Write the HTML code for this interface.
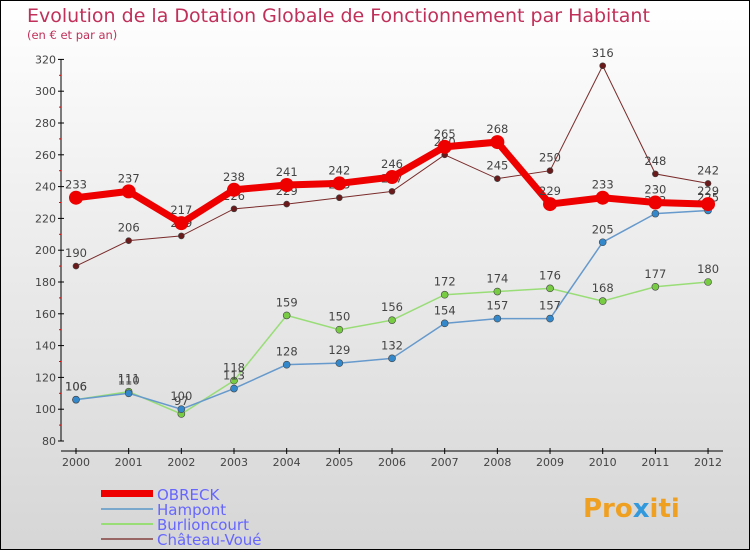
<!DOCTYPE html>
<html><head><meta charset="utf-8"><style>
body{margin:0}
#c{width:750px;height:550px;position:relative;box-sizing:border-box;border:1px solid #000;background:linear-gradient(#ffffff,#f2f2f2 30%,#d6d6d6);font-family:"DejaVu Sans","Liberation Sans",sans-serif;overflow:hidden}
svg{position:absolute;left:0;top:0}
</style></head><body>
<div id="c">
<svg width="750" height="550" id="s">
<text x="26" y="21" font-size="19" fill="#c0305a">Evolution de la Dotation Globale de Fonctionnement par Habitant</text>
<text x="26" y="38" font-size="11.5" fill="#c0305a">(en € et par an)</text>
<g id="axes"></g><g id="series"></g>
<g>
<rect x="100" y="489" width="52" height="7" fill="#e00"/>
<text x="156" y="499" font-size="15" fill="#6666ff">OBRECK</text>
<rect x="100" y="507" width="52" height="2" fill="#7aa7cc"/>
<text x="156" y="514" font-size="15" fill="#6666ff">Hampont</text>
<rect x="100" y="522" width="52" height="2" fill="#99dd77"/>
<text x="156" y="529" font-size="15" fill="#6666ff">Burlioncourt</text>
<rect x="100" y="537" width="52" height="2" fill="#996666"/>
<text x="156" y="544" font-size="15" fill="#6666ff">Château-Voué</text>
</g>
<g><text x="582" y="516" font-size="26" font-weight="bold" fill="#f0a020">Pro<tspan fill="#3399dd">x</tspan>iti</text></g>
</svg></div>
<script>
const years=[2000,2001,2002,2003,2004,2005,2006,2007,2008,2009,2010,2011,2012];
const obreck=[233,237,217,238,241,242,246,265,268,229,233,230,229];
const hampont=[106,110,100,113,128,129,132,154,157,157,205,223,225];
const burlioncourt=[106,111,97,118,159,150,156,172,174,176,168,177,180];
const chateauVoue=[190,206,209,226,229,233,237,260,245,250,316,248,242];
const yTicks=[80,100,120,140,160,180,200,220,240,260,280,300,320];
const NS="http://www.w3.org/2000/svg";
function X(i){return 75+i*52.67;}
function Y(v){return 440-(v-80)*1.59;}
function mk(t,a,p){const e=document.createElementNS(NS,t);for(const k in a)e.setAttribute(k,a[k]);p.appendChild(e);return e;}
const ax=document.getElementById('axes');
let l=mk('line',{x1:60,y1:Y(320),x2:60,y2:Y(80),stroke:'#000'},ax);


yTicks.forEach(v=>{const t=mk('text',{x:55,y:Y(v)+4,'font-size':11,fill:'#444','text-anchor':'end'},ax);t.textContent=v;


mk('line',{x1:57,y1:Y(v),x2:63,y2:Y(v),stroke:'#000'},ax);
if(v<320)mk('line',{x1:58,y1:Y(v+10),x2:60,y2:Y(v+10),stroke:'#e00'},ax);});
l=mk('line',{x1:60,y1:450,x2:722,y2:450,stroke:'#000'},ax);


years.forEach((y,i)=>{mk('line',{x1:X(i),y1:447,x2:X(i),y2:453,stroke:'#000'},ax);
const t=mk('text',{x:X(i),y:465,'font-size':11,fill:'#444','text-anchor':'middle'},ax);t.textContent=y;

});
const sg=document.getElementById('series');
function draw(vals,color,dot,w,r,name){
const g=mk('g',{},sg);


const p=mk('polyline',{points:vals.map((v,i)=>X(i)+','+Y(v)).join(' '),fill:'none',stroke:color,'stroke-width':w},g);


vals.forEach((v,i)=>{const c=mk('circle',{cx:X(i),cy:Y(v),r:r,fill:dot,stroke:'#444','stroke-width':r>4?0:0.6},g);


const t=mk('text',{x:X(i),y:Y(v)-9,'font-size':11.5,fill:'#444','text-anchor':'middle'},g);t.textContent=v;

});}
draw(chateauVoue,'#7a2a2a','#6a1a1a',1,3,'chateau-voue');
draw(burlioncourt,'#99dd77','#77cc44',1.5,3.5,'burlioncourt');
draw(hampont,'#6699cc','#3388cc',1.5,3.5,'hampont');
draw(obreck,'#ee0000','#ee0000',7,7,'obreck');
</script>
</body></html>
